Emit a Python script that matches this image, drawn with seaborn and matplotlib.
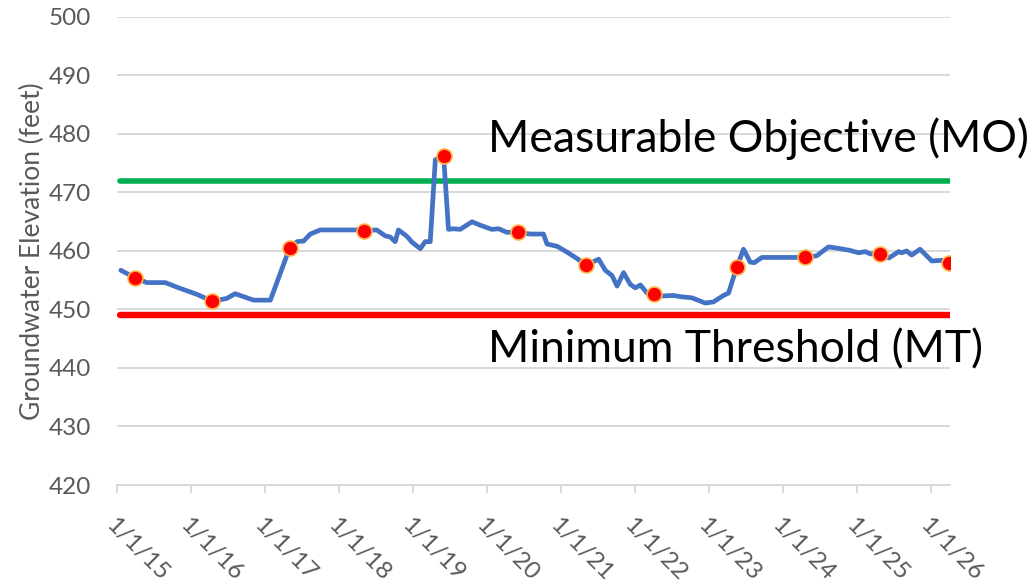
import numpy as np
import pandas as pd
import matplotlib
matplotlib.use("Agg")
import matplotlib.pyplot as plt
import seaborn as sns

# groundwater elevation readings (feet)
level_dates = [
    "2015-01-20", "2015-04-01", "2015-05-28", "2015-08-27", "2015-11-09",
    "2016-01-30", "2016-04-16", "2016-06-26", "2016-08-06", "2016-11-05",
    "2017-01-27", "2017-03-17", "2017-05-02", "2017-06-08", "2017-07-10",
    "2017-08-12", "2017-09-30", "2018-04-15", "2018-05-06", "2018-07-06",
    "2018-08-16", "2018-09-10", "2018-10-05", "2018-10-21", "2018-12-02",
    "2018-12-27", "2019-02-06", "2019-03-02", "2019-03-27", "2019-04-21",
    "2019-06-01", "2019-06-25", "2019-07-20", "2019-08-22", "2019-10-19",
    "2019-11-29", "2020-01-25", "2020-02-27", "2020-04-08", "2020-05-31",
    "2020-08-02", "2020-10-06", "2020-10-23", "2020-12-12", "2021-01-30",
    "2021-03-12", "2021-05-05", "2021-07-05", "2021-08-07", "2021-09-09",
    "2021-10-04", "2021-11-05", "2021-12-08", "2022-01-02", "2022-01-27",
    "2022-03-01", "2022-04-06", "2022-05-05", "2022-07-09", "2022-08-11",
    "2022-10-08", "2022-12-13", "2023-01-23", "2023-03-13", "2023-04-07",
    "2023-05-18", "2023-06-20", "2023-07-23", "2023-08-12", "2023-09-19",
    "2024-02-05", "2024-04-19", "2024-06-16", "2024-08-12", "2024-09-23",
    "2024-11-27", "2025-01-08", "2025-02-10", "2025-03-07", "2025-04-26",
    "2025-06-06", "2025-07-25", "2025-08-09", "2025-09-02", "2025-09-27",
    "2025-11-07", "2026-01-04", "2026-02-22", "2026-03-30",
]
level_values = [
    456.7, 455.4, 454.6, 454.6, 453.6,
    452.6, 451.4, 451.9, 452.7, 451.6,
    451.6, 456.2, 460.5, 461.6, 461.7,
    462.9, 463.6, 463.6, 463.5, 463.6,
    462.6, 462.4, 461.6, 463.6, 462.5,
    461.5, 460.4, 461.6, 461.6, 475.6,
    476.2, 463.7, 463.8, 463.7, 465.0,
    464.4, 463.7, 463.8, 463.2, 463.2,
    462.9, 462.9, 461.2, 460.8, 459.8,
    458.9, 457.6, 458.6, 456.7, 455.8,
    454.0, 456.3, 454.3, 453.7, 454.2,
    452.8, 452.6, 452.3, 452.4, 452.2,
    452.0, 451.1, 451.3, 452.4, 452.8,
    457.3, 460.3, 458.1, 458.0, 458.9,
    458.9, 458.9, 459.2, 460.7, 460.5,
    460.1, 459.7, 459.9, 459.5, 459.5,
    458.8, 459.9, 459.7, 460.0, 459.3,
    460.3, 458.3, 458.4, 458.0,
]

# annual spring measurements (red markers)
spring_dates = [
    "2015-04-01", "2016-04-16", "2017-05-02", "2018-05-06", "2019-06-01",
    "2020-05-31", "2021-05-05", "2022-04-06", "2023-05-18", "2024-04-19",
    "2025-04-26", "2026-03-30",
]
spring_values = [
    455.4, 451.4, 460.5, 463.5, 476.2,
    463.2, 457.6, 452.6, 457.3, 458.9,
    459.5, 458.0,
]

MO_LEVEL = 472
MT_LEVEL = 449
X_START = "2015-01-01"
X_END = "2026-04-04"
Y_TICKS = list(range(420, 501, 10))
YEAR_TICKS = [f"{y}-01-01" for y in range(2015, 2027)]
YEAR_LABELS = [f"1/1/{y % 100}" for y in range(2015, 2027)]

levels = pd.DataFrame({"date": pd.to_datetime(level_dates), "elev": level_values})
spring = pd.DataFrame({"date": pd.to_datetime(spring_dates), "elev": spring_values})
line_start = levels["date"].iloc[0] - pd.Timedelta(days=5)

sns.set_theme(style="white")
plt.rcParams["font.family"] = ["Lato", "DejaVu Sans"]

fig = plt.figure(figsize=(10.30, 5.87), dpi=100)
ax = fig.add_axes([117 / 1030, 1 - 485 / 587, (950 - 117) / 1030, (485 - 17) / 587])

grid_col = "#d9d9d9"
for yv in Y_TICKS[1:]:
    ax.axhline(yv, color=grid_col, lw=1.4, zorder=0)

threshold = pd.DataFrame({
    "date": [line_start, pd.Timestamp(X_END)] * 2,
    "elev": [MO_LEVEL, MO_LEVEL, MT_LEVEL, MT_LEVEL],
    "kind": ["MO", "MO", "MT", "MT"],
})
sns.lineplot(data=threshold[threshold["kind"] == "MO"], x="date", y="elev",
             color="#00b050", lw=4.0, ax=ax, solid_capstyle="round", zorder=2)
sns.lineplot(data=threshold[threshold["kind"] == "MT"], x="date", y="elev",
             color="#ff0000", lw=4.6, ax=ax, solid_capstyle="round", zorder=2)

sns.lineplot(data=levels, x="date", y="elev", color="#4472c4", lw=3.4,
             ax=ax, solid_joinstyle="round", solid_capstyle="round", zorder=3)
sns.scatterplot(data=spring, x="date", y="elev", color="#ff0000", s=115,
                edgecolor="#ffb347", linewidth=1.2, ax=ax, zorder=4)

ax.set_xlim(pd.Timestamp(X_START), pd.Timestamp(X_END))
ax.set_ylim(420, 500)
ax.set_yticks(Y_TICKS)
ax.set_xticks(pd.to_datetime(YEAR_TICKS))
ax.set_xticklabels(YEAR_LABELS, rotation=-45, ha="left", va="top",
                   rotation_mode="anchor")
ax.tick_params(axis="y", length=0, pad=19, labelsize=17.5, labelcolor="#595959")
ax.tick_params(axis="x", length=6, width=1.4, color=grid_col, direction="out",
               pad=15, labelsize=17.5, labelcolor="#595959", bottom=True)

for side in ["left", "right", "top"]:
    ax.spines[side].set_visible(False)
ax.spines["bottom"].set_color(grid_col)
ax.spines["bottom"].set_linewidth(1.4)

ax.set_xlabel("")
ax.set_ylabel("Groundwater Elevation (feet)", fontsize=19, color="#595959",
              labelpad=2)

ax.text(0.4455, 476.9, "Measurable Objective (MO)", transform=ax.get_yaxis_transform(),
        fontsize=32, color="black", ha="left", va="baseline")
ax.text(0.4455, 441.0, "Minimum Threshold (MT)", transform=ax.get_yaxis_transform(),
        fontsize=32, color="black", ha="left", va="baseline")

fig.savefig("out.png", dpi=100)
plt.close(fig)
